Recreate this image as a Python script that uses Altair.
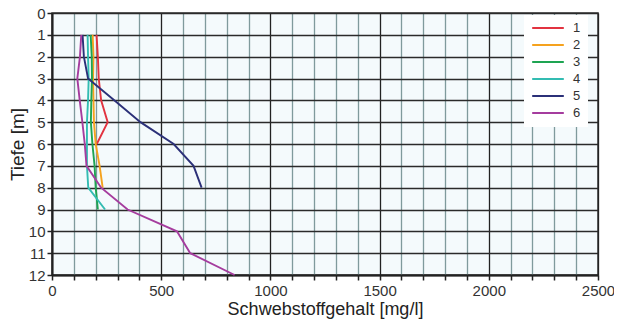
import altair as alt
import pandas as pd

depths_1 = [1, 2, 3, 4, 5, 6]
vals_1 = [204, 210, 214, 225, 255, 205]
depths_2 = [1, 2, 3, 4, 5, 6, 7, 8]
vals_2 = [186, 190, 188, 190, 192, 200, 218, 232]
depths_3 = [1, 2, 3, 4, 5, 6, 7, 8, 9]
vals_3 = [177, 182, 183, 180, 178, 185, 195, 200, 210]
depths_4 = [1, 2, 3, 4, 5, 6, 7, 8, 9]
vals_4 = [163, 165, 168, 165, 160, 160, 160, 166, 243]
depths_5 = [1, 2, 3, 4, 5, 6, 7, 8]
vals_5 = [140, 146, 165, 285, 405, 557, 648, 685]
depths_6 = [1, 2, 3, 4, 5, 6, 7, 8, 9, 10, 11, 12]
vals_6 = [134, 128, 116, 127, 139, 150, 158, 225, 346, 572, 633, 836]

series_names = ["1", "2", "3", "4", "5", "6"]
series_colors = ["#e23340", "#f5a21e", "#1ea452", "#33bcb2", "#2b3078", "#a53c9e"]

rows = []
for name, ds, vs in zip(series_names,
                        [depths_1, depths_2, depths_3, depths_4, depths_5, depths_6],
                        [vals_1, vals_2, vals_3, vals_4, vals_5, vals_6]):
    for d, v in zip(ds, vs):
        rows.append({"serie": name, "tiefe": d, "wert": v})
df = pd.DataFrame(rows)

x_ticks = list(range(0, 2600, 100))
y_ticks = list(range(0, 13))

FONT = "Liberation Sans"

lines = alt.Chart(df).mark_line(strokeWidth=1.9).encode(
    x=alt.X("wert:Q",
            scale=alt.Scale(domain=[0, 2500], nice=False, zero=True),
            axis=alt.Axis(values=x_ticks,
                          labelExpr="datum.value % 500 === 0 ? datum.label : ''",
                          format="d",
                          title="Schwebstoffgehalt [mg/l]",
                          titleFont=FONT, titleFontSize=18, titleFontWeight="normal",
                          titleColor="#222", titlePadding=2,
                          labelFont=FONT, labelFontSize=15, labelColor="#333",
                          labelPadding=3, labelFlush=False, labelOverlap=False,
                          tickSize=5, tickColor="#222", tickWidth=1.5,
                          domainColor="#222", domainWidth=2,
                          grid=True,
                          gridColor={"condition": {"test": "datum.value % 500 === 0", "value": "#222"}, "value": "#7f9a9c"},
                          gridWidth=1.3, gridOpacity=1)),
    y=alt.Y("tiefe:Q",
            scale=alt.Scale(domain=[0, 12], nice=False, reverse=True),
            axis=alt.Axis(values=y_ticks, format="d",
                          title="Tiefe [m]",
                          titleFont=FONT, titleFontSize=19, titleFontWeight="normal",
                          titleColor="#222", titlePadding=1,
                          labelFont=FONT, labelFontSize=15, labelColor="#333",
                          labelPadding=2, labelFlush=False, labelOverlap=False,
                          tickSize=5, tickColor="#222", tickWidth=1.5,
                          domainColor="#222", domainWidth=2,
                          grid=True, gridColor="#2a2a2a", gridWidth=1.3, gridOpacity=1)),
    color=alt.Color("serie:N",
                    scale=alt.Scale(domain=series_names, range=series_colors),
                    legend=alt.Legend(title=None, orient="none", legendX=472, legendY=2,
                                      symbolType="stroke", symbolSize=1000, symbolStrokeWidth=2,
                                      clipHeight=12,
                                      labelFont=FONT, labelFontSize=13, labelColor="#333",
                                      rowPadding=4, fillColor="white", padding=7,
                                      labelOffset=8)),
    order="tiefe:Q",
)

chart = lines.properties(
    width=546, height=262,
    autosize=alt.AutoSizeParams(type="none"),
    padding={"left": 44, "top": 5, "right": 16, "bottom": 46},
).configure_view(fill="#f4fafc", stroke="#333", strokeWidth=1.5)

chart.save("out.html", embed_options={"renderer": "svg", "actions": False})
